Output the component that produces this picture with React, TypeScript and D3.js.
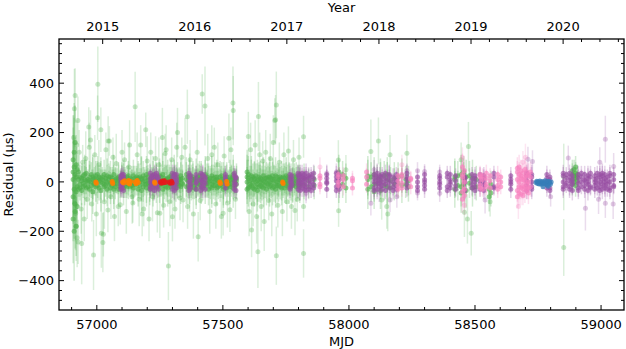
import React from 'react';
import * as d3 from 'd3';

type Band = [number, number, number[]]; // mjd, error, residuals
type Pt = [number, number, number]; // mjd, residual, error

const W = 626;
const H = 349;
const plot = { left: 59, right: 624, top: 39, bottom: 310 };

const mjdTicks = [57000, 57500, 58000, 58500, 59000];
const resTicks = [-400, -200, 0, 200, 400];
const yearTicks = [2015, 2016, 2017, 2018, 2019, 2020];

// dense green band around zero
const greenBand: Band[] = [
  [56906, 180, [-60, 40, -150, 90, 10]], [56910, 200, [120, -200, -30, 60]], [56914, 150, [-90, 30, 160, -120]],
  [56918, 120, [20, -180, 70, -40]], [56922, 90, [-20, 50, -100]], [56927, 70, [10, -30, 40]],
  [56933, 50, [-10, 20, -25]], [56940, 60, [15, -35, 5]], [56946, 45, [-5, 25, -20]], [56952, 80, [30, -15, 10]],
  [56958, 55, [-25, 5, 35]], [56965, 40, [10, -20, 0]], [56971, 65, [-30, 20, 5]], [56978, 50, [0, 30, -15]],
  [56984, 90, [20, -40, 10]], [56990, 45, [-10, 15, -5]], [56996, 60, [25, -20, 5]], [57003, 75, [-15, 10, 30]],
  [57009, 50, [5, -25, 20]], [57016, 85, [-35, 15, 0]], [57022, 40, [10, -5, 20]], [57029, 60, [-20, 30, -10]],
  [57035, 45, [15, -15, 5]], [57041, 70, [0, 25, -30]], [57048, 55, [-10, 10, 20]], [57054, 65, [20, -25, -5]],
  [57061, 45, [-15, 5, 15]], [57067, 80, [30, -10, -30]], [57073, 50, [5, -20, 10]], [57080, 40, [-5, 15, -10]],
  [57086, 60, [10, -30, 20]], [57093, 45, [-20, 5, 0]], [57099, 55, [15, -10, 25]], [57106, 70, [-25, 20, 5]],
  [57112, 50, [0, -15, 10]], [57119, 45, [20, -5, -20]], [57125, 60, [-10, 25, 5]], [57132, 40, [5, -20, 15]],
  [57138, 55, [-15, 10, -5]], [57145, 65, [25, -25, 0]], [57151, 50, [-5, 15, -10]], [57158, 45, [10, -10, 20]],
  [57164, 70, [-30, 5, 15]], [57171, 55, [0, 20, -15]], [57177, 90, [15, -35, 10]], [57184, 60, [-20, 25, 0]],
  [57190, 45, [5, -10, 15]], [57197, 75, [-10, 30, -25]], [57203, 50, [20, -5, 5]], [57210, 65, [-15, 10, -30]],
  [57216, 45, [0, 15, -10]], [57223, 80, [25, -20, 5]], [57229, 55, [-5, 10, -15]], [57236, 60, [15, -25, 20]],
  [57242, 45, [-20, 0, 10]], [57249, 70, [10, -15, 25]], [57255, 50, [-10, 20, -5]], [57262, 85, [30, -30, 0]],
  [57268, 55, [-15, 5, 15]], [57275, 60, [5, -20, 10]], [57281, 75, [-25, 15, -5]], [57288, 50, [10, -10, 20]],
  [57294, 65, [-5, 25, -20]], [57301, 45, [15, -5, 0]], [57307, 80, [-20, 10, 30]], [57314, 55, [0, -25, 15]],
  [57320, 60, [20, -10, -5]], [57327, 50, [-15, 5, 10]], [57333, 70, [10, -20, 25]], [57340, 55, [-10, 15, -5]],
  [57355, 70, [-20, 10, 30]], [57362, 50, [5, -15, 20]], [57368, 90, [-30, 25, 0]], [57375, 55, [15, -10, -20]],
  [57381, 65, [-5, 20, 10]], [57388, 45, [10, -25, 5]], [57394, 80, [-15, 15, -30]], [57401, 55, [20, -5, 0]],
  [57407, 60, [-10, 10, 25]], [57414, 70, [5, -20, 15]], [57420, 50, [-25, 0, 10]], [57430, 75, [15, -15, 30]],
  [57437, 55, [-5, 20, -10]], [57443, 65, [10, -30, 0]], [57450, 50, [-20, 5, 15]], [57456, 80, [25, -10, -25]],
  [57463, 55, [0, 15, -15]], [57469, 60, [-15, 20, 5]], [57476, 70, [10, -25, 20]], [57482, 50, [-5, 5, -20]],
  [57489, 65, [20, -15, 0]], [57495, 55, [-10, 25, 10]], [57502, 75, [5, -20, -30]], [57508, 50, [15, -5, 0]],
  [57515, 60, [-25, 10, 20]], [57521, 45, [0, -15, 5]], [57528, 70, [20, -10, -20]], [57534, 55, [-5, 15, 10]],
  [57541, 80, [10, -25, 30]], [57547, 50, [-15, 5, 0]], [57554, 60, [5, -10, 15]],
  [57596, 90, [-30, 20, 0, 40]], [57601, 75, [15, -25, 30]], [57607, 60, [-10, 5, -20]], [57613, 80, [25, -15, 10]],
  [57619, 55, [-5, 20, -25]], [57625, 70, [10, -30, 15]], [57631, 50, [-20, 0, 25]], [57637, 85, [5, -10, -35]],
  [57643, 60, [20, -20, 10]], [57649, 70, [-15, 15, 0]], [57655, 55, [10, -5, -20]], [57661, 75, [-25, 25, 5]],
  [57667, 50, [0, -15, 15]], [57673, 65, [15, -30, -5]], [57679, 55, [-10, 10, 20]], [57685, 80, [20, -20, 0]],
  [57691, 50, [-5, 15, -15]], [57697, 70, [10, -25, 25]], [57703, 60, [-20, 5, 10]], [57709, 75, [25, -10, -30]],
  [57715, 55, [0, 20, -15]], [57721, 65, [-15, 10, 5]], [57727, 50, [10, -20, 20]], [57733, 70, [-5, 15, -25]],
  [57739, 55, [20, -10, 0]], [57745, 60, [-25, 5, 15]], [57751, 75, [5, -15, 25]], [57757, 50, [-10, 20, -5]],
  [57763, 65, [15, -25, 10]], [57770, 55, [-20, 0, 20]], [57777, 70, [10, -15, -10]], [57784, 50, [-5, 25, 5]],
  [57791, 60, [20, -20, 0]], [57798, 55, [-15, 10, 15]], [57805, 65, [5, -10, -20]],
  [57822, 60, [-10, 15]], [57840, 50, [5, -20]], [57862, 55, [-15, 10]],
  [57960, 70, [20, -15, 40]], [57975, 55, [-10, 30]], [57988, 60, [15, -25]],
  [58075, 80, [10, -30, 25]], [58088, 60, [-20, 20]], [58100, 70, [30, -10, -40]], [58112, 55, [-5, 15]],
  [58125, 75, [20, -35, 5]], [58140, 60, [-15, 25]], [58152, 70, [10, -20, 30]], [58165, 55, [-25, 5]],
  [58180, 65, [15, -10]], [58195, 60, [-5, 20]], [58210, 70, [25, -15]], [58225, 55, [-10, 10]], [58236, 60, [5, -20]],
  [58420, 75, [20, -30, 10]], [58432, 60, [-15, 25]], [58445, 80, [30, -20, -45]], [58455, 65, [-10, 15, 40]],
  [58465, 70, [20, -35]], [58478, 60, [-5, 25]], [58490, 75, [15, -25]], [58505, 55, [-20, 10]],
  [58556, 60, [-30, -60]], [58563, 55, [-10, -45]],
  [58886, 45, [10, 30, -10, 45]], [58893, 40, [25, 50, 0]], [58899, 45, [15, 35, -15, 60]], [58906, 40, [30, 5, 20]],
];

// green TOAs with large uncertainties
const greenWide: Pt[] = [
  [56911, 296, 162], [56914, 350, 110], [56925, 249, 97], [56912, -86, 110], [56916, -127, 150], [56922, -226, 120],
  [56926, -243, 90], [56908, 180, 90], [56918, -180, 140], [56920, 150, 100], [56940, -250, 165], [56968, 222, 80],
  [56975, 170, 120], [56987, -296, 142], [57004, 396, 153], [57003, 260, 90], [57016, 211, 90], [57018, -208, 140],
  [57024, -246, 120], [57026, -212, 90], [57045, 166, 100], [57050, 166, 60], [57044, -114, 90], [57093, -93, 80],
  [57100, 120, 90], [57152, 304, 142], [57130, 150, 100], [57140, -60, 110], [57194, 211, 70], [57180, -130, 90],
  [57250, -127, 100], [57284, -341, 138], [57260, 180, 120], [57275, 130, 100], [57300, -141, 100], [57320, 200, 100],
  [57359, 264, 110], [57342, -73, 90], [57350, 140, 120], [57418, 356, 80], [57429, 308, 160], [57456, 110, 120],
  [57524, 177, 100], [57540, 320, 148], [57541, 289, 140], [57402, -222, 100], [57501, -127, 90], [57528, -113, 90],
  [57601, 184, 100], [57641, 265, 140], [57639, -283, 147], [57614, -195, 110], [57709, 252, 100], [57712, 312, 135],
  [57706, 249, 90], [57712, -299, 118], [57786, -116, 100], [57820, 183, 85], [57820, -290, 98], [57820, -100, 60],
  [57958, 89, 80], [57988, 49, 60], [57959, -117, 65], [58087, 123, 130], [58117, 166, 95], [58163, 110, 80],
  [58230, 116, 75], [58130, -73, 80], [58150, -100, 90], [58154, -130, 70], [58474, 143, 100], [58485, -208, 90],
  [58458, -123, 100], [58445, 90, 70], [58470, -150, 100], [58852, -266, 115], [58852, 20, 135], [58560, -80, 60],
  [56930, 120, 90], [56938, -110, 100], [56944, 80, 70], [56950, -150, 90], [56956, 95, 110], [56962, -70, 80],
  [56970, 140, 100], [56980, -90, 70], [56992, 110, 80], [56998, -130, 90], [57008, 70, 100], [57030, -80, 110],
  [57036, 130, 70], [57056, -60, 90], [57064, 100, 80], [57070, -140, 100], [57077, 75, 120], [57085, -100, 80],
  [57110, 90, 70], [57117, -120, 90], [57127, 60, 100], [57143, -85, 80], [57160, 110, 90], [57168, -70, 110],
  [57174, 150, 80], [57186, -110, 70], [57200, 85, 100], [57207, -150, 90], [57214, 120, 80], [57221, -60, 100],
  [57233, 95, 90], [57240, -125, 80], [57246, 70, 110], [57265, -95, 90], [57271, 115, 80], [57290, -80, 100],
  [57297, 90, 90], [57310, -110, 80], [57317, 140, 100], [57330, -65, 90], [57337, 100, 80],
  [57360, -100, 90], [57370, 90, 80], [57383, -130, 100], [57398, 120, 90], [57410, -75, 80], [57440, 95, 100],
  [57448, -120, 90], [57466, 140, 80], [57472, -90, 100], [57480, 70, 90], [57494, -140, 90], [57505, 105, 80],
  [57518, -85, 100], [57532, 130, 90], [57550, -70, 80],
  [57604, -120, 100], [57610, 130, 110], [57620, -90, 90], [57628, 150, 100], [57634, -140, 110], [57646, 110, 90],
  [57652, -100, 100], [57658, 85, 80], [57664, -160, 120], [57670, 120, 90], [57682, -75, 80], [57688, 95, 100],
  [57694, -130, 90], [57700, 160, 110], [57718, -95, 90], [57724, 80, 80], [57736, -120, 100], [57742, 110, 90],
  [57754, -80, 80], [57760, 125, 100], [57772, -100, 90], [57780, 90, 80], [57795, -70, 90], [57802, 100, 80],
];

const purpleBand: Band[] = [
  [57095, 30, [-20, 5, 25, -10, 15, -30]], [57100, 35, [10, -25, 30, 0, -15, 20]], [57106, 30, [-5, 20, -35, 10, 30]],
  [57212, 35, [15, -20, 0, 35, -30]], [57220, 30, [-10, 25, -25, 5, 20]], [57228, 40, [30, -5, -35, 15, 0]],
  [57236, 35, [-20, 10, 25, -15, 35]], [57244, 30, [5, -30, 20, -5, 10]], [57300, 35, [-15, 20, 35, -30, 0]],
  [57308, 40, [25, -10, -35, 10, 30]], [57316, 30, [-5, 15, -25, 30, 5]], [57365, 35, [20, -20, 0, 35, -35]],
  [57373, 30, [-10, 25, -25, 10]], [57394, 35, [15, -30, 30, -5, 0]], [57412, 30, [-20, 10, 35, -35, 5]],
  [57420, 40, [25, -15, 0, 30, -25]], [57430, 35, [-5, 20, -30, 10]], [57510, 35, [10, -25, 30, -10, 20]],
  [57545, 30, [-15, 25, 0, -30, 35]], [57552, 35, [20, -10, -35, 15]], [57766, 35, [-20, 15, 30, -30, 0]],
  [57774, 30, [10, -15, 25, -5]], [57798, 35, [25, -30, 5, -10, 35]], [57806, 40, [-15, 20, -35, 30, 0]],
  [57814, 35, [10, -25, 35, -5, 20]], [57822, 30, [-30, 15, 0, 30, -15]], [57830, 40, [20, -35, 10, -20, 35]],
  [57840, 35, [-5, 25, -30, 15]], [57850, 30, [30, -20, 0, -35, 20]], [57860, 35, [-10, 15, 35, -25]],
  [57912, 35, [15, -30, 30, -5, 0]], [57950, 30, [-20, 20, 35, -35, 5]], [57962, 35, [10, -15, 25, -30]],
  [58100, 35, [-25, 30, 0, 15, -35]], [58112, 40, [20, -10, -30, 35, 5]], [58122, 35, [-5, 25, -20, 10]],
  [58132, 30, [30, -30, 0, -15, 20]], [58145, 35, [-10, 15, 35, -35, 5]], [58160, 40, [25, -25, 10, -5, 30]],
  [58175, 35, [-20, 20, -35, 0]], [58188, 30, [15, -15, 30, -30, 5]], [58230, 35, [-25, 10, 35, -10, 20]],
  [58272, 30, [20, -20, 0, -35]], [58300, 35, [-15, 30, 10, -30, 0]], [58360, 35, [25, -25, 0, 15, -10]],
  [58390, 30, [-20, 20, 35, -35]], [58402, 35, [10, -10, 30, -25, 0]], [58423, 30, [-15, 25, 5, -30]],
  [58460, 35, [20, -35, 0, 15]], [58488, 30, [-25, 10, 30, -10]], [58500, 35, [15, -20, -35, 25, 0]],
  [58520, 30, [-10, 30, 5, -30]], [58535, 35, [25, -15, 0, -35, 15]], [58575, 30, [-20, 20, 35, -25]],
  [58642, 35, [10, -30, 25, 0, -10]], [58705, 35, [-15, 25, 35, -35, 5]], [58725, 40, [20, -20, 0, 30, -30]],
  [58785, 35, [-25, 15, 30, -10, 0]], [58797, 30, [10, -25, 20, -35]], [58850, 35, [-20, 25, 0, 35, -30]],
  [58862, 30, [15, -15, 30, -5]], [58875, 35, [-30, 20, 5, -20, 35]], [58886, 40, [25, -10, -35, 10, 0]],
  [58910, 35, [-5, 30, -25, 15, -35]], [58922, 30, [20, -20, 35, 0]], [58935, 35, [-15, 10, 30, -30, 5]],
  [58948, 40, [25, -35, 0, 15, -10]], [58958, 30, [-20, 20, 35, -25]], [58975, 35, [10, -30, 25, 0, -15]],
  [58985, 30, [-25, 15, 35, -5]], [58995, 35, [20, -20, 0, 30, -35]], [59005, 40, [-10, 25, -30, 10, 35]],
  [59015, 35, [15, -15, 30, -25, 0]], [59025, 30, [-30, 20, 5, -10]], [59035, 35, [25, -25, 35, 0, -35]],
  [59050, 30, [-15, 10, 30, -20]],
];

const purpleWide: Pt[] = [
  [59017, 173, 95], [58938, -107, 90], [59017, -86, 60], [59048, -90, 60], [58540, -73, 55], [58710, 92, 50],
  [58728, 83, 45], [58870, 97, 50], [58087, -86, 50], [58163, -73, 50], [58190, -60, 45], [58300, 42, 30],
  [58360, -46, 35], [58360, 40, 30], [57830, -46, 40], [57912, 36, 35], [57950, 40, 35], [58100, 49, 40],
  [58120, -41, 40], [58230, 45, 30], [58272, 45, 35], [58272, -45, 30], [58990, -70, 60], [59050, 62, 55],
  [58995, 80, 60], [58800, -60, 40],
];

const pinkBand: Band[] = [
  [57885, 30, [-10, 15, 25, -20]], [57958, 30, [20, -15, 0, 30]], [57978, 35, [-20, 10, 25]],
  [58014, 30, [15, -25, 5]], [58070, 35, [-10, 20, 40]], [58195, 30, [25, -15, 5, -30]],
  [58210, 35, [-5, 20, -25, 30]], [58245, 30, [10, -20, 15]], [58450, 55, [60, -40, 20, -70, 30]],
  [58458, 50, [-30, 45, 0, -55]], [58520, 35, [-15, 20, 30, -25]], [58530, 30, [10, -30, 25]],
  [58545, 35, [-20, 15, 35, -10]], [58560, 30, [25, -25, 5]], [58590, 35, [-15, 30, -30, 10]],
  [58602, 30, [20, -20, 0]], [58668, 45, [40, -35, 10, -60, 55]], [58675, 50, [-20, 30, -45, 60, 0]],
  [58682, 45, [25, -50, 15, -25, 45]], [58690, 40, [-30, 10, 35, -15, -55]], [58698, 45, [20, -20, 50, -40, 5]],
  [58705, 40, [-10, 40, -30, 25]], [58712, 45, [30, -25, 0, -45]], [58720, 40, [-20, 20, 40]],
];

const pinkWide: Pt[] = [
  [58700, 100, 55], [58672, -100, 50], [58690, 80, 45], [58450, 100, 40], [58458, -95, 40],
  [57885, 60, 40], [58210, 70, 40],
];

const bluePts: Pt[] = [
  [58742, -2, 6], [58745, 3, 6], [58748, -6, 6], [58751, 1, 5], [58754, -8, 7], [58757, 4, 6], [58760, -3, 5],
  [58763, -10, 6], [58766, 2, 6], [58769, -5, 5], [58772, 0, 6], [58775, -7, 7], [58778, 5, 6], [58781, -4, 5],
  [58784, -12, 6], [58787, 1, 6], [58790, -6, 5], [58793, 3, 6], [58796, -2, 7], [58799, -9, 6], [58802, 0, 5],
  [58770, -20, 8], [58790, -18, 8],
];

const orangePts: Pt[] = [
  [56996, 0, 8], [56998, -5, 8], [57061, 2, 8], [57063, -6, 8], [57102, 0, 8], [57106, -4, 8], [57110, 5, 8],
  [57122, -3, 8], [57126, 6, 8], [57130, -8, 8], [57134, 2, 8], [57152, 0, 8], [57156, -7, 8], [57160, 6, 8],
  [57164, -2, 8], [57229, 0, 8], [57231, -5, 8], [57488, 0, 8], [57490, -6, 8], [57515, 2, 8], [57517, -8, 8],
  [57737, 0, 8], [57739, -6, 8],
];

const redPts: Pt[] = [
  [57252, 0, 8], [57256, -5, 8], [57260, 4, 8], [57264, -3, 8], [57268, 5, 8], [57272, -2, 8],
  [57286, 0, 8], [57290, -5, 8], [57296, 3, 8], [57299, -4, 8],
];

const flatten = (b: Band[]): Pt[] => b.flatMap(([m, e, rs]) => rs.map((r) => [m, r, e] as Pt));

const toYear = (mjd: number) => 2000 + (mjd - 51544.5) / 365.25;

const x = d3.scaleLinear().domain([56850, 59091]).range([plot.left, plot.right]);
const y = d3.scaleLinear().domain([-519, 579]).range([plot.bottom, plot.top]);
const xYear = d3.scaleLinear().domain([toYear(56850), toYear(59091)]).range([plot.left, plot.right]);

const series = [
  { pts: greenWide, color: '#4daf4a', bar: 0.2, dot: 0.3 },
  { pts: flatten(greenBand), color: '#4daf4a', bar: 0.25, dot: 0.6 },
  { pts: purpleWide, color: '#984ea3', bar: 0.2, dot: 0.3 },
  { pts: flatten(purpleBand), color: '#984ea3', bar: 0.25, dot: 0.65 },
  { pts: pinkWide, color: '#f781bf', bar: 0.2, dot: 0.3 },
  { pts: flatten(pinkBand), color: '#f781bf', bar: 0.25, dot: 0.65 },
  { pts: orangePts, color: '#ff7f00', bar: 0.4, dot: 0.85 },
  { pts: redPts, color: '#e41a1c', bar: 0.4, dot: 0.85 },
  { pts: bluePts, color: '#377eb8', bar: 0.4, dot: 0.75 },
];

const font = 'DejaVu Sans, sans-serif';
const fmt = (v: number) => String(v).replace('-', '\u2212');

export default function App() {
  const minorX = d3.range(56900, 59100, 100).filter((v) => v % 500 !== 0);
  const minorY = d3.range(-480, 580, 40).filter((v) => v % 200 !== 0);
  const minorYear = d3.range(2014.8, 2020.81, 0.2).filter((v) => Math.abs(v - Math.round(v)) > 0.01)
    .filter((v) => xYear(v) >= plot.left && xYear(v) <= plot.right);
  const MAJ = 5;
  const MIN = 3;

  return (
    <svg width={W} height={H} style={{ display: 'block', position: 'absolute', left: 0, top: 0 }}>
      <rect width={W} height={H} fill="#fff" />
      <defs>
        <clipPath id="clip">
          <rect x={plot.left} y={plot.top} width={plot.right - plot.left} height={plot.bottom - plot.top} />
        </clipPath>
      </defs>
      <g clipPath="url(#clip)">
        {series.map((s, si) => (
          <g key={si}>
            <g stroke={s.color} strokeOpacity={s.bar} strokeWidth={1.5}>
              {s.pts.map(([m, r, e], i) => (
                <line key={i} x1={x(m)} x2={x(m)} y1={y(r - e)} y2={y(r + e)} />
              ))}
            </g>
            <g fill={s.color} fillOpacity={s.dot}>
              {s.pts.map(([m, r], i) => (
                <circle key={i} cx={x(m)} cy={y(r)} r={2.5} />
              ))}
            </g>
          </g>
        ))}
      </g>
      <g stroke="#000" strokeWidth={1}>
        {mjdTicks.map((v) => (
          <line key={'xb' + v} x1={x(v)} x2={x(v)} y1={plot.bottom} y2={plot.bottom - MAJ} />
        ))}
        {minorX.map((v) => (
          <line key={'xm' + v} x1={x(v)} x2={x(v)} y1={plot.bottom} y2={plot.bottom - MIN} />
        ))}
        {yearTicks.map((v) => (
          <line key={'yt' + v} x1={xYear(v)} x2={xYear(v)} y1={plot.top} y2={plot.top + MAJ} />
        ))}
        {minorYear.map((v) => (
          <line key={'ym' + v} x1={xYear(v)} x2={xYear(v)} y1={plot.top} y2={plot.top + MIN} />
        ))}
        {resTicks.map((v) => (
          <g key={'r' + v}>
            <line x1={plot.left} x2={plot.left + MAJ} y1={y(v)} y2={y(v)} />
            <line x1={plot.right} x2={plot.right - MAJ} y1={y(v)} y2={y(v)} />
          </g>
        ))}
        {minorY.map((v) => (
          <g key={'rm' + v}>
            <line x1={plot.left} x2={plot.left + MIN} y1={y(v)} y2={y(v)} />
            <line x1={plot.right} x2={plot.right - MIN} y1={y(v)} y2={y(v)} />
          </g>
        ))}
      </g>
      <rect x={plot.left} y={plot.top} width={plot.right - plot.left} height={plot.bottom - plot.top}
        fill="none" stroke="#000" strokeWidth={1.3} />
      <g fontFamily={font} fontSize={13} fill="#000">
        {mjdTicks.map((v) => (
          <text key={'lx' + v} x={x(v)} y={329} textAnchor="middle">{v}</text>
        ))}
        {yearTicks.map((v) => (
          <text key={'ly' + v} x={xYear(v)} y={31} textAnchor="middle">{v}</text>
        ))}
        {resTicks.map((v) => (
          <text key={'lr' + v} x={54} y={y(v) + 4.7} textAnchor="end">{fmt(v)}</text>
        ))}
        <text x={(plot.left + plot.right) / 2} y={346} textAnchor="middle">MJD</text>
        <text x={(plot.left + plot.right) / 2} y={11.5} textAnchor="middle">Year</text>
        <text transform={`translate(12.5,${(plot.top + plot.bottom) / 2}) rotate(-90)`} textAnchor="middle">
          Residual (μs)
        </text>
      </g>
    </svg>
  );
}
